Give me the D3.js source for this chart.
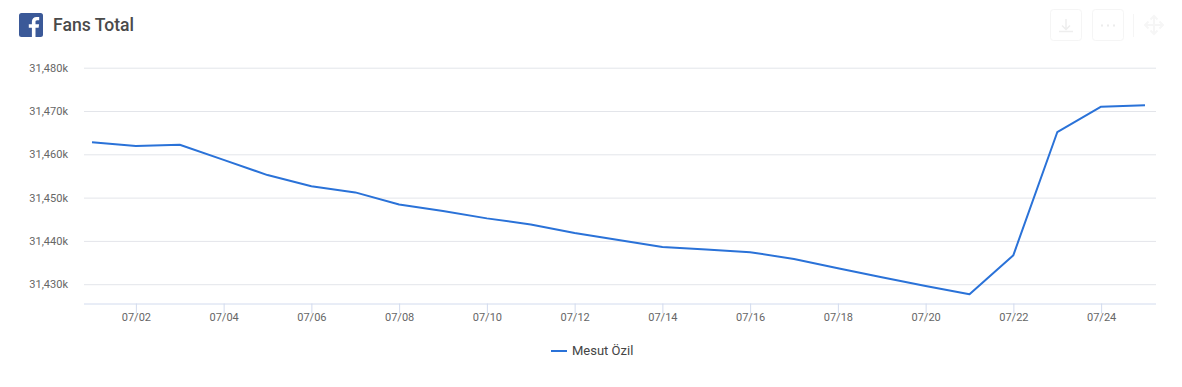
<!DOCTYPE html>
<html>
<head>
<meta charset="utf-8">
<script src="https://d3js.org/d3.v7.min.js"></script>
<style>
  html, body { margin: 0; padding: 0; background: #fff; }
  text { font-family: Roboto, sans-serif; }
</style>
</head>
<body>
<div id="chart"></div>
<script>
var days = ["07/01","07/02","07/03","07/04","07/05","07/06","07/07","07/08","07/09","07/10","07/11","07/12","07/13",
            "07/14","07/15","07/16","07/17","07/18","07/19","07/20","07/21","07/22","07/23","07/24","07/25"];
var fans = [31462.8,31461.9,31462.2,31458.7,31455.2,31452.6,31451.2,31448.4,31446.9,31445.2,31443.8,31441.8,31440.2,
            31438.6,31438.0,31437.4,31435.8,31433.7,31431.6,31429.6,31427.7,31436.7,31465.1,31471.0,31471.3];
var yTicks = [31430,31440,31450,31460,31470,31480];
var xTicks = ["07/02","07/04","07/06","07/08","07/10","07/12","07/14","07/16","07/18","07/20","07/22","07/24"];
var seriesName = "Mesut Özil";
var chartTitle = "Fans Total";

var width = 1182, height = 387;
var left = 84, right = 1156, axisY = 303.5;

var svg = d3.select("#chart").append("svg")
    .attr("width", width)
    .attr("height", height)
    .style("display", "block");

var x = d3.scalePoint().domain(days).range([92, 1145]);
var y = d3.scaleLinear().domain([31430, 31480]).range([284.2, 67.7]);

// y axis, gridlines come from the long ticks
var yAxis = svg.append("g")
    .attr("transform", "translate(" + left + ",0)")
    .call(d3.axisLeft(y).tickValues(yTicks).tickSize(-(right - left)).tickPadding(16)
        .tickFormat(function(d) { return d3.format(",")(d) + "k"; }));
yAxis.select(".domain").remove();
yAxis.selectAll("line").attr("stroke", "#e3e5ea").attr("stroke-width", 1);
yAxis.selectAll("text").attr("fill", "#666").style("font-size", "11px");

// x axis
var xAxis = svg.append("g")
    .attr("transform", "translate(0," + axisY + ")")
    .call(d3.axisBottom(x).tickValues(xTicks).tickSize(10).tickPadding(0).tickSizeOuter(0));
xAxis.select(".domain").attr("d", "M" + left + ",0.5H" + right).attr("stroke", "#d2dbee");
xAxis.selectAll("line").attr("stroke", "#d2dbee");
xAxis.selectAll("text").attr("fill", "#666").style("font-size", "11px");

var line = d3.line()
    .x(function(d, i) { return x(days[i]); })
    .y(function(d) { return y(d); });

svg.append("path")
    .datum(fans)
    .attr("d", line)
    .attr("fill", "none")
    .attr("stroke", "#2a72d8")
    .attr("stroke-width", 2)
    .attr("stroke-linejoin", "round");

// title with facebook icon
var icon = svg.append("g").attr("transform", "translate(19,13)");
icon.append("rect").attr("width", 24).attr("height", 24).attr("rx", 2.5).attr("fill", "#3b5998");
icon.append("path")
    .attr("d", "M16.5 24V14.8H19.6L20.1 11.2H16.5V9C16.5 8 16.8 7.3 18.3 7.3H20.2V4.1C19.9 4 18.8 3.9 17.5 3.9C14.8 3.9 12.9 5.6 12.9 8.6V11.2H9.8V14.8H12.9V24Z")
    .attr("fill", "#fff");

svg.append("text")
    .attr("x", 53).attr("y", 31)
    .attr("fill", "#4a4a4a")
    .style("font-size", "17.6px")
    .style("font-weight", 500)
    .text(chartTitle);

// faint toolbox buttons, top right
var tools = svg.append("g").attr("fill", "none").attr("stroke", "#f5f5f5");
tools.append("rect").attr("x", 1050.5).attr("y", 9.5).attr("width", 31).attr("height", 31).attr("rx", 3);
tools.append("rect").attr("x", 1092.5).attr("y", 9.5).attr("width", 31).attr("height", 31).attr("rx", 3);
tools.append("path").attr("d", "M1059 31.5H1073M1066 19V29M1062 25.5L1066 29.5L1070 25.5").attr("stroke", "#eeeeee").attr("stroke-width", 1.5);
tools.append("path").attr("d", "M1101 25.5H1103M1107 25.5H1109M1113 25.5H1115").attr("stroke", "#ececec").attr("stroke-width", 2);
tools.append("path").attr("d", "M1133.5 14V37");
tools.append("path").attr("d", "M1154 16V34M1145 25H1163M1150.5 19.5L1154 16L1157.5 19.5M1150.5 30.5L1154 34L1157.5 30.5M1148.5 21.5L1145 25L1148.5 28.5M1159.5 21.5L1163 25L1159.5 28.5")
    .attr("stroke", "#f6f6f6").attr("stroke-width", 2);

// legend
svg.append("line")
    .attr("x1", 551).attr("x2", 567).attr("y1", 351).attr("y2", 351)
    .attr("stroke", "#2a72d8").attr("stroke-width", 2);
svg.append("text")
    .attr("x", 572).attr("y", 355)
    .attr("fill", "#444")
    .style("font-size", "13px")
    .text(seriesName);
</script>
</body>
</html>
